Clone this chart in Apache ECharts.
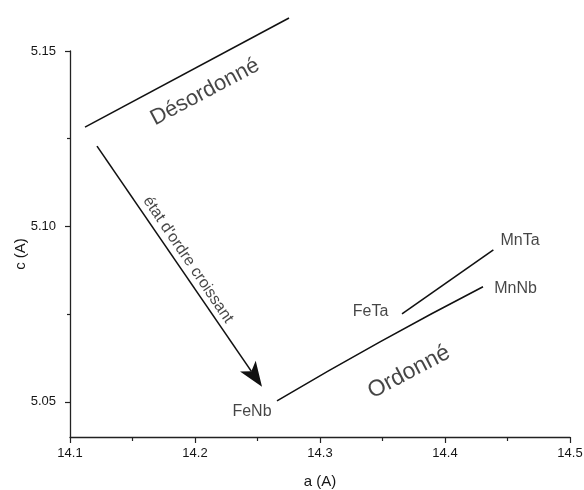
<!DOCTYPE html>
<html><head><meta charset="utf-8">
<script src="https://cdn.jsdelivr.net/npm/echarts@6/dist/echarts.min.js"></script>
<style>html,body{margin:0;padding:0;background:#fff}#c{width:584px;height:490px}</style>
</head><body><div id="c"></div>
<script>
// Axis ticks
const xTicks = [14.1, 14.2, 14.3, 14.4, 14.5];
const yTicks = [5.05, 5.10, 5.15];
const yMinorTicks = [5.075, 5.125];
// Curves (a, c)
const disorderA = [14.112, 14.2752];
const disorderC = [5.1283, 5.1594];
const orderA = [14.2656, 14.348, 14.4304];
const orderC = [5.0503, 5.0671, 5.0828];
const taA = [14.3656, 14.4387];
const taC = [5.0751, 5.0933];
const arrowA = [14.1216, 14.2536];
const arrowC = [5.1229, 5.0543];
// Annotations
const compoundNames = ['FeNb', 'FeTa', 'MnTa', 'MnNb'];
const compoundA = [14.2456, 14.3404, 14.46, 14.4564];
const compoundC = [5.0472, 5.0757, 5.096, 5.0823];
const regionNames = ['Désordonné', 'Ordonné'];
const regionA = [14.208, 14.3712];
const regionC = [5.1383, 5.0585];
const regionRot = [28, 28];
const regionSize = [22, 23];
const arrowText = "état d'ordre croissant";
const arrowTextA = 14.1944, arrowTextC = 5.0905;

const font = 'Liberation Sans, Arial, sans-serif';
const txt = '#161616';
const ink = '#111';
const zip = (a, c) => a.map((v, i) => [v, c[i]]);

// arrow head style (pixels)
const HEAD_LEN = 25, HEAD_HALF_W = 9.5, HEAD_NOTCH = 0.75;

const chart = echarts.init(document.getElementById('c'));
chart.setOption({
  animation: false,
  backgroundColor: '#fff',
  grid: { left: 70, right: 14, top: 51, bottom: 53, containLabel: false, outerBoundsMode: 'none' },
  xAxis: {
    type: 'value', min: 14.1, max: 14.5, interval: 0.1,
    name: 'a (A)', nameLocation: 'middle', nameGap: 37, nameMoveOverlap: false,
    nameTextStyle: { fontFamily: font, fontSize: 15, color: txt },
    axisLine: { show: true, lineStyle: { color: '#222', width: 1.3 } },
    axisTick: { show: true, length: 6, lineStyle: { color: '#222', width: 1.2 } },
    minorTick: { show: true, splitNumber: 2, length: 4, lineStyle: { color: '#222', width: 1.2 } },
    axisLabel: { margin: 10, fontFamily: font, fontSize: 13, color: txt, formatter: v => v.toFixed(1) },
    splitLine: { show: false }
  },
  yAxis: [{
    type: 'value', min: 5.04, max: 5.15,
    name: 'c (A)', nameLocation: 'middle', nameGap: 42, nameMoveOverlap: false,
    nameTextStyle: { fontFamily: font, fontSize: 15, color: txt, padding: [0, 20, 0, 0] },
    axisLine: { show: true, lineStyle: { color: '#222', width: 1.3 } },
    axisTick: { show: true, length: 5, customValues: yTicks, lineStyle: { color: '#222', width: 1.2 } },
    axisLabel: { margin: 14, customValues: yTicks, fontFamily: font, fontSize: 13, color: txt, formatter: v => v.toFixed(2) },
    splitLine: { show: false }
  }, {
    type: 'value', min: 5.04, max: 5.15, position: 'left',
    axisLine: { show: false },
    axisTick: { show: true, length: 3, customValues: yMinorTicks, lineStyle: { color: '#222', width: 1.2 } },
    axisLabel: { show: false },
    splitLine: { show: false }
  }],
  series: [
    { type: 'line', data: zip(disorderA, disorderC), symbol: 'none', clip: false,
      lineStyle: { color: ink, width: 1.6 } },
    { type: 'line', data: zip(orderA, orderC), symbol: 'none', smooth: true,
      lineStyle: { color: ink, width: 1.6 } },
    { type: 'line', data: zip(taA, taC), symbol: 'none',
      lineStyle: { color: ink, width: 1.6 } },
    { type: 'custom', clip: false,
      data: [[arrowA[0], arrowC[0], arrowA[1], arrowC[1]]],
      renderItem: function (params, api) {
        const p1 = api.coord([api.value(0), api.value(1)]);
        const p2 = api.coord([api.value(2), api.value(3)]);
        const dx = p2[0] - p1[0], dy = p2[1] - p1[1];
        const L = Math.hypot(dx, dy);
        const ux = dx / L, uy = dy / L, nx = -uy, ny = ux;
        const bx = p2[0] - ux * HEAD_LEN, by = p2[1] - uy * HEAD_LEN;
        const mx = p2[0] - ux * HEAD_LEN * HEAD_NOTCH, my = p2[1] - uy * HEAD_LEN * HEAD_NOTCH;
        return { type: 'group', children: [
          { type: 'line', shape: { x1: p1[0], y1: p1[1], x2: mx, y2: my },
            style: { stroke: ink, lineWidth: 1.6 } },
          { type: 'polygon', shape: { points: [
              p2, [bx + nx * HEAD_HALF_W, by + ny * HEAD_HALF_W], [mx, my],
              [bx - nx * HEAD_HALF_W, by - ny * HEAD_HALF_W]] },
            style: { fill: ink } }
        ] };
      } },
    { type: 'scatter', symbolSize: 0, data: zip(compoundA, compoundC).map((p, i) => ({ value: p, name: compoundNames[i] })),
      label: { show: true, position: 'inside', formatter: p => p.name, fontFamily: font, fontSize: 16, color: txt } },
    { type: 'scatter', symbolSize: 0, clip: false,
      data: zip(regionA, regionC).map((p, i) => ({ value: p, name: regionNames[i],
        label: { rotate: regionRot[i], fontSize: regionSize[i] } })),
      label: { show: true, position: 'inside', formatter: p => p.name, fontFamily: font, color: txt } },
    { type: 'scatter', symbolSize: 0,
      data: [{ value: [arrowTextA, arrowTextC], name: arrowText }],
      label: { show: true, position: 'inside', rotate: -56, formatter: p => p.name, fontFamily: font, fontSize: 16, color: txt } }
  ]
});
</script></body></html>
